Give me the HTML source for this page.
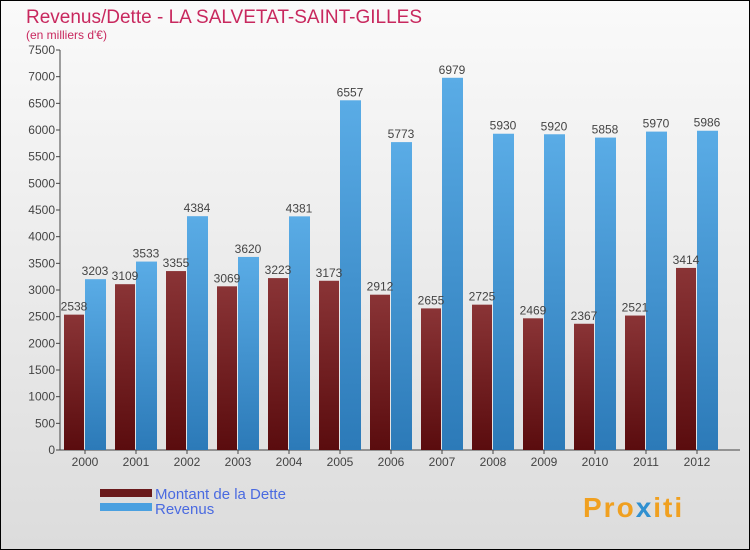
<!DOCTYPE html>
<html><head><meta charset="utf-8"><style>
body{margin:0;background:#fff}
svg{display:block;font-family:"Liberation Sans",sans-serif}
</style></head><body>
<svg width="750" height="550" viewBox="0 0 750 550">
<defs>
<linearGradient id="bg" x1="0" y1="0" x2="0" y2="1"><stop offset="0" stop-color="#fafafa"/><stop offset="1" stop-color="#dcdcdc"/></linearGradient>
<linearGradient id="gd" x1="0" y1="0" x2="0" y2="1"><stop offset="0" stop-color="#8a3436"/><stop offset="1" stop-color="#5a0c0e"/></linearGradient>
<linearGradient id="gr" x1="0" y1="0" x2="0" y2="1"><stop offset="0" stop-color="#5aace6"/><stop offset="1" stop-color="#2c7ab8"/></linearGradient>
</defs>
<rect x="0.5" y="0.5" width="749" height="549" fill="url(#bg)" stroke="#000"/>
<text x="26" y="23" font-size="19" fill="#c8285e">Revenus/Dette - LA SALVETAT-SAINT-GILLES</text>
<text x="26" y="39" font-size="12" fill="#c8285e">(en milliers d'€)</text>
<g id="axes"></g>
<g id="bars"></g>
<g>
<rect x="100" y="489" width="52" height="8" fill="#6a1a1c"/>
<text x="155" y="499" font-size="15" fill="#4a6ae0">Montant de la Dette</text>
<rect x="100" y="503" width="52" height="8" fill="#4aa0e0"/>
<text x="155" y="514" font-size="15" fill="#4a6ae0">Revenus</text>
</g>
<text x="583" y="517" font-size="28" font-weight="bold" fill="#f0a020" letter-spacing="2">Pro<tspan fill="#3090d0">x</tspan>iti</text>
</svg>
<script>
const years=["2000","2001","2002","2003","2004","2005","2006","2007","2008","2009","2010","2011","2012"];
const dette=[2538,3109,3355,3069,3223,3173,2912,2655,2725,2469,2367,2521,3414];
const revenus=[3203,3533,4384,3620,4381,6557,5773,6979,5930,5920,5858,5970,5986];
const yTicks=[0,500,1000,1500,2000,2500,3000,3500,4000,4500,5000,5500,6000,6500,7000,7500];
const NS="http://www.w3.org/2000/svg";
const y0=450,yTop=50,yMax=7500;
const y=v=>y0-(v/yMax)*(y0-yTop);
const xc=i=>85+i*51;
function mk(t,a,p){const e=document.createElementNS(NS,t);for(const k in a)e.setAttribute(k,a[k]);p.appendChild(e);return e;}
const ax=document.getElementById('axes'),bg=document.getElementById('bars');
const yl=mk('line',{x1:60,y1:yTop,x2:60,y2:y0,stroke:'#444'},ax);


const xl=mk('line',{x1:60,y1:y0,x2:740,y2:y0,stroke:'#444'},ax);


yTicks.forEach(v=>{
  mk('line',{x1:56,y1:y(v),x2:60,y2:y(v),stroke:'#444'},ax);
  const t=mk('text',{x:55,y:y(v)+4,'font-size':12,'text-anchor':'end',fill:'#444'},ax);
  t.textContent=v;
  
  
});
years.forEach((yr,i)=>{
  const c=xc(i);
  mk('line',{x1:c,y1:y0,x2:c,y2:y0+4,stroke:'#444'},ax);
  const t=mk('text',{x:c,y:y0+16,'font-size':12,'text-anchor':'middle',fill:'#444'},ax);
  t.textContent=yr;
  
  
  const b1=mk('rect',{x:c-21,y:y(dette[i]),width:20,height:y0-y(dette[i]),fill:'url(#gd)'},bg);
  
  
  const b2=mk('rect',{x:c,y:y(revenus[i]),width:21,height:y0-y(revenus[i]),fill:'url(#gr)'},bg);
  
  
  const l1=mk('text',{x:c-11,y:y(dette[i])-4,'font-size':12,'text-anchor':'middle',fill:'#444'},bg);
  l1.textContent=dette[i];
  
  
  const l2=mk('text',{x:c+10,y:y(revenus[i])-4,'font-size':12,'text-anchor':'middle',fill:'#444'},bg);
  l2.textContent=revenus[i];
  
  
});
</script>
</body></html>
